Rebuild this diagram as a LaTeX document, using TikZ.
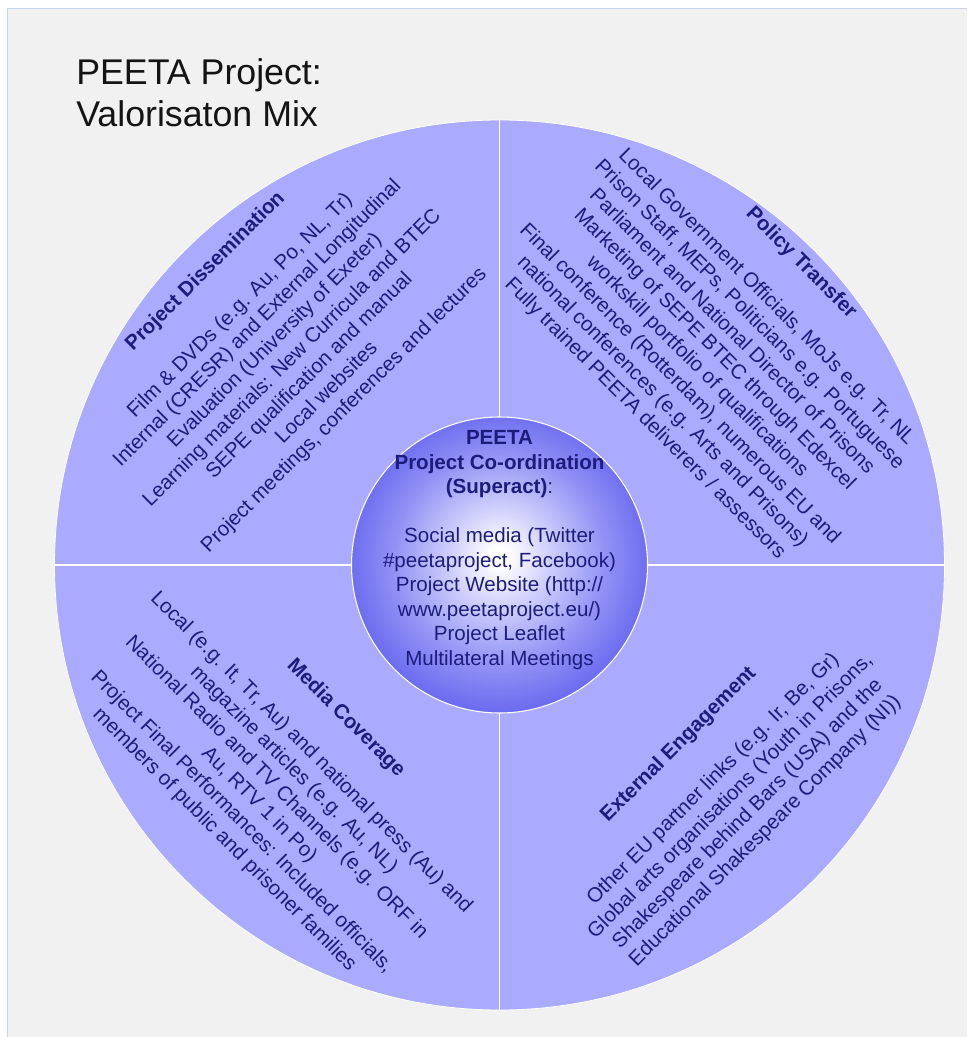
\documentclass[tikz,border=0pt]{standalone}
\usepackage{fontspec}
\setmainfont{Liberation Sans}
\definecolor{quadfill}{RGB}{170,170,255}
\definecolor{txtblue}{RGB}{28,28,125}
\definecolor{hubedge}{RGB}{72,72,234}
\definecolor{hubouter}{RGB}{95,95,238}
\definecolor{hubmid}{RGB}{145,145,245}
\definecolor{hubinner}{RGB}{210,210,252}
\definecolor{bggrey}{RGB}{241,241,241}
\definecolor{frameblue}{RGB}{198,213,236}
\definecolor{titleblack}{RGB}{20,20,20}
\pgfdeclareradialshading{hubshade}{\pgfpoint{0bp}{1.5bp}}{color(0bp)=(white); color(1.5bp)=(white); color(8bp)=(hubinner); color(18bp)=(hubmid); color(28bp)=(hubouter); color(35bp)=(hubedge); color(50bp)=(hubedge)}
\begin{document}
\begin{tikzpicture}[x=0.75pt,y=-0.75pt,
  body/.style={text=txtblue, font=\fontsize{15.4}{18.4}\selectfont, align=center, inner sep=0pt},
  titletext/.style={anchor=base west, text=titleblack, font=\fontsize{26.8}{31.5}\selectfont, inner sep=0pt},
  divider/.style={draw=white, line width=1.1pt},
]
\useasboundingbox (0,0) rectangle (967,1037);
\fill[white] (0,0) rectangle (967,1037);
\fill[bggrey] (8,9) rectangle (967,1037);
\draw[frameblue, line width=1.2pt] (7.5,1037) -- (7.5,8.5) -- (967,8.5);

\node[titletext] (title1) at (76,85) {PEETA Project:};
\node[titletext] (title2) at (76,127) {Valorisaton Mix};

\node[circle, fill=quadfill, draw=white, line width=0.6pt, minimum size=667.5pt, inner sep=0pt] (outer) at (499.5,565) {};
\draw[divider] (outer.north) -- (outer.south);
\draw[divider] (outer.west) -- (outer.east);
\node[circle, shading=hubshade, draw=white, line width=0.8pt, minimum size=222pt, inner sep=0pt] (hub) at (499.5,565) {};

\node[body] (hubtext) at (499.5,550) {\textbf{PEETA}\\\textbf{Project Co-ordination}\\\textbf{(Superact)}:\\[18.4pt]Social media (Twitter\\\#peetaproject, Facebook)\\Project Website (http://\\www.peetaproject.eu/)\\Project Leaflet\\Multilateral Meetings};

\node[body, rotate=45] (dissem) at (275,341) {\textbf{Project Dissemination}\\[18.4pt]Film \& DVDs (e.g. Au, Po, NL, Tr)\\Internal (CRESR) and External Longitudinal\\Evaluation (University of Exeter)\\Learning materials: New Curricula and BTEC\\SEPE qualification and manual\\Local websites\\Project meetings, conferences and lectures};

\node[body, rotate=-45] (policy) at (723,341) {\textbf{Policy Transfer}\\[18.4pt]Local Government Officials, MoJs e.g. Tr, NL\\Prison Staff, MEPs, Politicians e.g. Portuguese\\Parliament and National Director of Prisons\\Marketing of SEPE BTEC through Edexcel\\workskill portfolio of qualifications\\Final conference (Rotterdam), numerous EU and\\national conferences (e.g. Arts and Prisons)\\Fully trained PEETA deliverers / assessors};

\node[body, rotate=-45] (media) at (285,779) {\textbf{Media Coverage}\\[18.4pt]Local (e.g. It, Tr, Au) and national press (Au) and\\magazine articles (e.g. Au, NL)\\National Radio and TV Channels (e.g. ORF in\\Au, RTV 1 in Po)\\Project Final Performances: Included officials,\\members of public and prisoner families};

\node[body, rotate=45] (external) at (722,788) {\textbf{External Engagement}\\[18.4pt]Other EU partner links (e.g. Ir, Be, Gr)\\Global arts organisations (Youth in Prisons,\\Shakespeare behind Bars (USA) and the\\Educational Shakespeare Company (NI))};
\end{tikzpicture}
\end{document}
